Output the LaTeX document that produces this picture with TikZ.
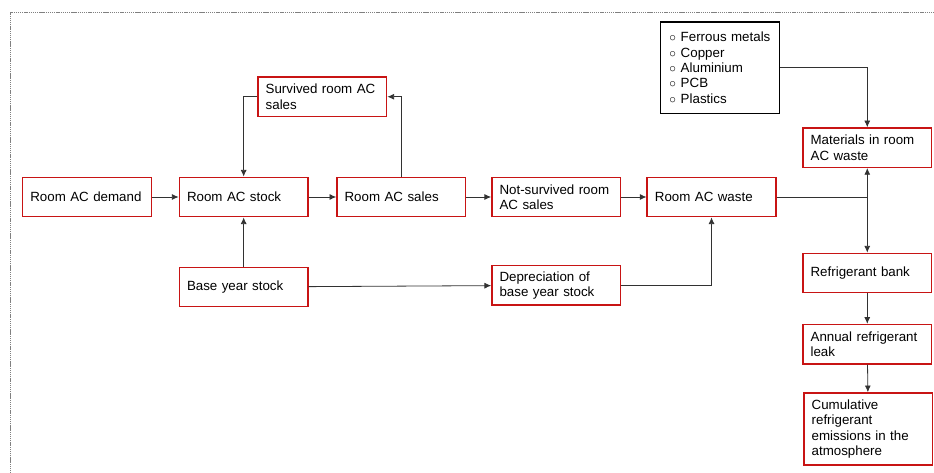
\documentclass[tikz,border=0pt]{standalone}
\usepackage{fontspec}
\setmainfont{Liberation Sans}
\usetikzlibrary{arrows.meta,positioning}
\definecolor{boxred}{RGB}{200,20,20}
\definecolor{linegray}{RGB}{50,50,50}
\newcommand{\litem}[1]{\makebox[8.5pt][l]{$\circ$}#1}

\begin{document}
\begin{tikzpicture}[
  x=0.75pt, y=0.75pt,
  font=\fontsize{10}{11.5}\selectfont,
  node distance=36.4pt and 19.4pt,
  box/.style={draw=boxred, line width=1.1pt, align=left, text width=85pt,
    minimum width=96.5pt, minimum height=29.5pt, inner xsep=5.75pt, inner ysep=2pt},
  listbox/.style={draw=black, line width=1.1pt, align=left, text width=76pt,
    minimum width=89pt, minimum height=68.5pt, inner xsep=6.5pt},
  arrow/.style={-{Latex[length=5pt,width=4.5pt]}, draw=linegray, line width=0.6pt},
  link/.style={draw=linegray, line width=0.6pt},
  border/.style={draw=gray, dash pattern=on 1pt off 0.6pt, line width=0.6pt}
]
\useasboundingbox (0,0) rectangle (934,472);
\draw[border] (10,-10) rectangle (944,460);

\node[box] (demand) at (87,275) {Room AC demand};
\node[box, right=19.9pt of demand] (stock) {Room AC stock};
\node[box, right=20.6pt of stock] (sales) {Room AC sales};
\node[box, right=18.6pt of sales] (notsurv) {Not-survived room\\AC sales};
\node[box, right=18.9pt of notsurv] (waste) {Room AC waste};

\node[box, above=44.6pt of stock, xshift=59pt] (surv) {Survived room AC\\sales};
\node[box, below=36.9pt of stock] (base) {Base year stock};
\node[box, below=35.6pt of notsurv] (deprec) {Depreciation of\\base year stock};

\node[listbox, above=46.9pt of waste, xshift=6.4pt] (mats) {\litem{Ferrous metals}\\\litem{Copper}\\\litem{Aluminium}\\\litem{PCB}\\\litem{Plastics}};
\node[box, right=19.2pt of waste, yshift=37pt] (matwaste) {Materials in room\\AC waste};
\node[box, below=63.4pt of matwaste] (bank) {Refrigerant bank};
\node[box, below=22.8pt of bank] (leak) {Annual refrigerant\\leak};
\node[box, below=20.7pt of leak, minimum height=54pt, minimum width=95pt, xshift=0.8pt] (cumul) {Cumulative\\refrigerant\\emissions in the\\atmosphere};

\coordinate (split) at (waste -| matwaste);

\draw[arrow] (demand) -- (stock);
\draw[arrow] (stock) -- (sales);
\draw[arrow] (sales) -- (notsurv);
\draw[arrow] (notsurv) -- (waste);

\draw[arrow] (sales) |- (surv);
\draw[arrow] (surv) -| (stock);
\draw[arrow] (base) -- (stock);
\draw[arrow] (base) -- (deprec);
\draw[arrow] (deprec) -| (waste);

\draw[link] (waste) -- (split);
\draw[arrow] (split) -- (matwaste);
\draw[arrow] (split) -- (bank);
\draw[arrow] (mats) -| (matwaste);

\draw[arrow] (bank) -- (leak);
\draw[arrow] (leak) -- (cumul);
\end{tikzpicture}
\end{document}
